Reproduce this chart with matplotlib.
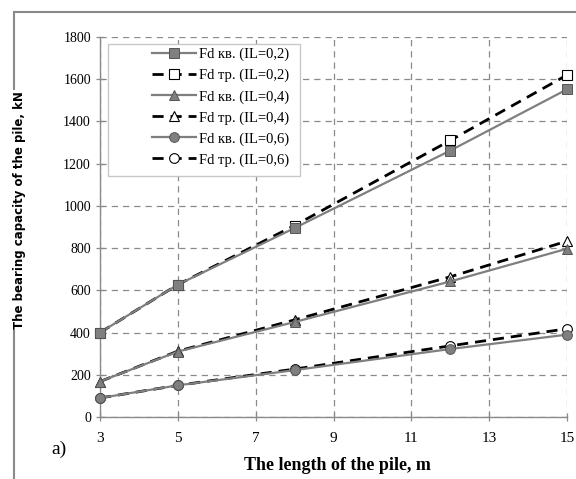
import matplotlib.pyplot as plt
import matplotlib.lines as mlines
import matplotlib.patches as mpatches

# pile length, m
length = [3, 5, 8, 12, 15]
# bearing capacity, kN
fd_kv_02 = [400, 627, 895, 1262, 1552]
fd_tr_02 = [400, 627, 907, 1310, 1620]
fd_kv_04 = [168, 310, 450, 642, 797]
fd_tr_04 = [168, 312, 460, 664, 833]
fd_kv_06 = [90, 150, 222, 322, 390]
fd_tr_06 = [90, 150, 227, 337, 418]
labels = ['Fd кв. (IL=0,2)', 'Fd тр. (IL=0,2)',
          'Fd кв. (IL=0,4)', 'Fd тр. (IL=0,4)',
          'Fd кв. (IL=0,6)', 'Fd тр. (IL=0,6)']

serif = ['Liberation Serif', 'DejaVu Serif']
grey = '#8a8a8a'
W, H = 576, 479

fig = plt.figure(figsize=(5.76, 4.79), dpi=100)
ax = fig.add_axes([100/W, 1-417/H, 467/W, 380/H])

series = [(fd_kv_02, 's', 'kv'), (fd_tr_02, 's', 'tr'),
          (fd_kv_04, '^', 'kv'), (fd_tr_04, '^', 'tr'),
          (fd_kv_06, 'o', 'kv'), (fd_tr_06, 'o', 'tr')]
for (vals, mk, kind), lab in zip(series, labels):
    if kind == 'kv':
        ax.plot(length, vals, color='#7f7f7f', lw=1.6, marker=mk, ms=7,
                mfc='#7f7f7f', mec='#555555', mew=0.7, label=lab,
                clip_on=False, zorder=4)
    else:
        ax.plot(length, vals, color='black', lw=2.0, ls=(0, (4, 2.5)), marker=mk, ms=7,
                mfc='white', mec='black', mew=0.8, label=lab,
                clip_on=False, zorder=3)

ax.set_xlim(3, 15)
ax.set_ylim(0, 1800)
ax.set_xticks(range(3, 16, 2))
ax.set_yticks(range(0, 1801, 200))
ax.grid(True, color=grey, ls=(0, (5, 4)), lw=0.9)
ax.set_axisbelow(True)
for s in ['top', 'right']:
    ax.spines[s].set_visible(False)
for s in ['left', 'bottom']:
    ax.spines[s].set_color(grey)
    ax.spines[s].set_linewidth(1.0)
ax.tick_params(direction='inout', length=6, color=grey, width=0.9)
for t in ax.get_yticklabels():
    t.set_family(serif)
    t.set_fontsize(10)
for t in ax.get_xticklabels():
    t.set_family(serif)
    t.set_fontsize(11)
ax.tick_params(axis='x', pad=8)

ax.set_xlabel('The length of the pile, m', family=serif, fontweight='bold', fontsize=13)
ax.xaxis.set_label_coords(0.508, -0.105)

# legend box drawn separately, entries sit towards its right side
box = mpatches.Rectangle((108/W, 1-176/H), 192/W, 132/H, transform=fig.transFigure,
                         facecolor='white', edgecolor='#c8c8c8', lw=1.0, zorder=5,
                         clip_on=False)
ax.add_artist(box)
leg = ax.legend(loc='upper right', bbox_to_anchor=(292/W, 1-45/H),
                bbox_transform=fig.transFigure, frameon=False,
                prop={'family': serif, 'size': 10.5}, borderaxespad=0, borderpad=0.2,
                handlelength=3.0, labelspacing=0.52, handletextpad=0.2)
leg.set_zorder(6)

# outer frame of the figure
fig.add_artist(mlines.Line2D([14/W, 1], [1-12/H, 1-12/H], color=grey, lw=1.5))
fig.add_artist(mlines.Line2D([14/W, 14/W], [0, 1-12/H], color=grey, lw=1.5))

fig.text(20/W, 1-210/H, 'The bearing capacity of the pile, kN', rotation=90,
         ha='center', va='center', fontsize=8.5, fontweight='bold', family='DejaVu Sans',
         bbox=dict(facecolor='white', edgecolor='none', pad=1))
fig.text(59/W, 1-449/H, 'a)', ha='center', va='center', fontsize=14, family=serif)

fig.savefig('out.png', dpi=100)
